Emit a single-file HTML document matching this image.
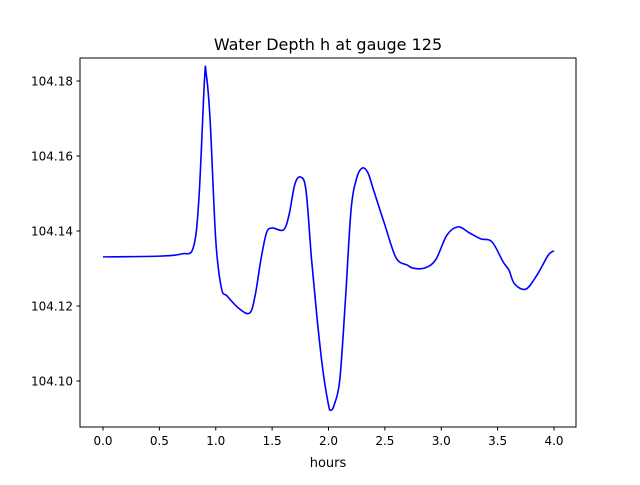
<!DOCTYPE html>
<html><head><meta charset="utf-8"><style>
body{margin:0;background:#fff;font-family:"Liberation Sans","DejaVu Sans",sans-serif}
svg text{font-family:"DejaVu Sans","Liberation Sans",sans-serif;fill:#000}
</style></head><body>
<svg id="chart" width="640" height="480" viewBox="0 0 640 480">
<rect width="640" height="480" fill="#fff"/>
<text x="328" y="50" font-size="16" text-anchor="middle">Water Depth h at gauge 125</text>
<g id="ticks"></g>
<path id="line" fill="none" stroke="#0000ff" stroke-width="1.6"/>
<rect x="80" y="58" width="496" height="369" fill="none" stroke="#000" stroke-width="1"/>
<text x="328" y="467" font-size="13" text-anchor="middle">hours</text>
</svg>
<script>
const hours=[0,0.5,0.7,0.8,0.85,0.9,0.915,0.95,1.0,1.05,1.1,1.2,1.3,1.35,1.4,1.45,1.5,1.6,1.65,1.7,1.75,1.8,1.85,1.9,1.95,2.0,2.02,2.05,2.1,2.15,2.2,2.25,2.3,2.35,2.4,2.5,2.6,2.7,2.75,2.85,2.95,3.05,3.15,3.25,3.35,3.45,3.55,3.6,3.65,3.75,3.85,3.95,4.0];
const depth=[104.1331,104.1333,104.1339,104.1355,104.1483,104.1803,104.1820,104.1696,104.1376,104.1248,104.1227,104.1195,104.1181,104.1229,104.1323,104.1395,104.1408,104.1403,104.1443,104.1523,104.1544,104.1509,104.1323,104.1163,104.1029,104.0936,104.0922,104.0936,104.1003,104.1216,104.1456,104.1541,104.1568,104.1555,104.1509,104.1416,104.1328,104.1309,104.1301,104.1301,104.1323,104.1389,104.1411,104.1395,104.1379,104.1371,104.1317,104.1296,104.1259,104.1245,104.1283,104.1336,104.1347];
const xTicks=[0,0.5,1,1.5,2,2.5,3,3.5,4];
const xTickLabels=["0.0","0.5","1.0","1.5","2.0","2.5","3.0","3.5","4.0"];
const yTicks=[104.10,104.12,104.14,104.16,104.18];
const yTickLabels=["104.10","104.12","104.14","104.16","104.18"];
const X=h=>103+(h)*112.75;
const Y=v=>381-(v-104.10)*3750;
const NS="http://www.w3.org/2000/svg";
const g=document.getElementById('ticks');
xTicks.forEach((t,i)=>{
 const l=document.createElementNS(NS,'line');
 
 
 l.setAttribute('x1',X(t));l.setAttribute('x2',X(t));l.setAttribute('y1',427);l.setAttribute('y2',430.5);l.setAttribute('stroke','#000');g.appendChild(l);
 const tx=document.createElementNS(NS,'text');
 
 
 tx.setAttribute('x',X(t));tx.setAttribute('y',445);tx.setAttribute('font-size','12');tx.setAttribute('text-anchor','middle');tx.textContent=xTickLabels[i];g.appendChild(tx);
});
yTicks.forEach((t,i)=>{
 const l=document.createElementNS(NS,'line');
 
 
 l.setAttribute('x1',76.5);l.setAttribute('x2',80);l.setAttribute('y1',Y(t));l.setAttribute('y2',Y(t));l.setAttribute('stroke','#000');g.appendChild(l);
 const tx=document.createElementNS(NS,'text');
 
 
 tx.setAttribute('x',73);tx.setAttribute('y',Y(t)+4.5);tx.setAttribute('font-size','12');tx.setAttribute('text-anchor','end');tx.textContent=yTickLabels[i];g.appendChild(tx);
});
const pts=hours.map((h,i)=>[X(h),Y(depth[i])]);
let d=`M${pts[0][0]},${pts[0][1]}`;
for(let i=0;i<pts.length-1;i++){
 const p0=pts[Math.max(0,i-1)],p1=pts[i],p2=pts[i+1],p3=pts[Math.min(pts.length-1,i+2)];
 const c1=[p1[0]+(p2[0]-p0[0])/6,p1[1]+(p2[1]-p0[1])/6];
 const c2=[p2[0]-(p3[0]-p1[0])/6,p2[1]-(p3[1]-p1[1])/6];
 d+=` C${c1[0]},${c1[1]} ${c2[0]},${c2[1]} ${p2[0]},${p2[1]}`;
}
document.getElementById('line').setAttribute('d',d);
</script>
</body></html>
